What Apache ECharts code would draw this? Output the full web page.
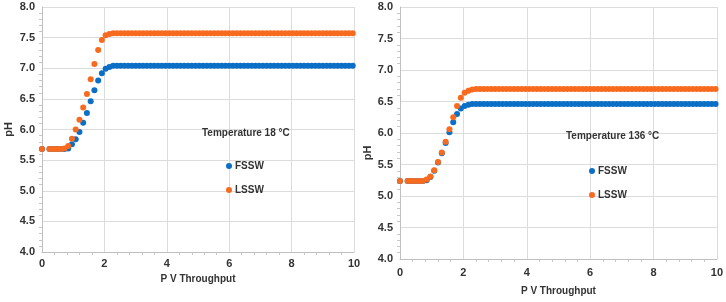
<!DOCTYPE html>
<html>
<head>
<meta charset="utf-8">
<script src="https://cdn.jsdelivr.net/npm/echarts@6/dist/echarts.min.js"></script>
<style>
  html, body { margin: 0; padding: 0; background: #fff; }
  #chart { width: 726px; height: 302px; }
</style>
</head>
<body>
<div id="chart"></div>
<script>
// PV throughput (shared by all four series)
const pvThroughput = [
  0, 0.24, 0.36, 0.48, 0.6, 0.72, 0.84, 0.96, 1.08, 1.2,
  1.32, 1.44, 1.56, 1.68, 1.8, 1.92, 2.04, 2.16, 2.28,
  2.4, 2.52, 2.64, 2.76, 2.88, 3, 3.12, 3.24,
  3.36, 3.48, 3.6, 3.72, 3.84, 3.96, 4.08, 4.2,
  4.32, 4.44, 4.56, 4.68, 4.8, 4.92, 5.04, 5.16,
  5.28, 5.4, 5.52, 5.64, 5.76, 5.88, 6, 6.12,
  6.24, 6.36, 6.48, 6.6, 6.72, 6.84, 6.96, 7.08,
  7.2, 7.32, 7.44, 7.56, 7.68, 7.8, 7.92, 8.04,
  8.16, 8.28, 8.4, 8.52, 8.64, 8.76, 8.88, 9,
  9.12, 9.24, 9.36, 9.48, 9.6, 9.72, 9.84, 9.96
];

// 18 °C
const fssw18 = [
  5.68, 5.68, 5.68, 5.68, 5.68, 5.68, 5.69, 5.76, 5.84, 5.96,
  6.11, 6.27, 6.46, 6.64, 6.80, 6.92, 6.99, 7.02, 7.04,
  7.04, 7.04, 7.04, 7.04, 7.04, 7.04, 7.04, 7.04,
  7.04, 7.04, 7.04, 7.04, 7.04, 7.04, 7.04, 7.04,
  7.04, 7.04, 7.04, 7.04, 7.04, 7.04, 7.04, 7.04,
  7.04, 7.04, 7.04, 7.04, 7.04, 7.04, 7.04, 7.04,
  7.04, 7.04, 7.04, 7.04, 7.04, 7.04, 7.04, 7.04,
  7.04, 7.04, 7.04, 7.04, 7.04, 7.04, 7.04, 7.04,
  7.04, 7.04, 7.04, 7.04, 7.04, 7.04, 7.04, 7.04,
  7.04, 7.04, 7.04, 7.04, 7.04, 7.04, 7.04, 7.04
];
const lssw18 = [
  5.68, 5.68, 5.68, 5.68, 5.68, 5.69, 5.73, 5.85, 6.00, 6.16,
  6.36, 6.58, 6.82, 7.07, 7.30, 7.46, 7.54, 7.56, 7.57,
  7.57, 7.57, 7.57, 7.57, 7.57, 7.57, 7.57, 7.57,
  7.57, 7.57, 7.57, 7.57, 7.57, 7.57, 7.57, 7.57,
  7.57, 7.57, 7.57, 7.57, 7.57, 7.57, 7.57, 7.57,
  7.57, 7.57, 7.57, 7.57, 7.57, 7.57, 7.57, 7.57,
  7.57, 7.57, 7.57, 7.57, 7.57, 7.57, 7.57, 7.57,
  7.57, 7.57, 7.57, 7.57, 7.57, 7.57, 7.57, 7.57,
  7.57, 7.57, 7.57, 7.57, 7.57, 7.57, 7.57, 7.57,
  7.57, 7.57, 7.57, 7.57, 7.57, 7.57, 7.57, 7.57
];

// 136 °C
const fssw136 = [
  5.24, 5.24, 5.24, 5.24, 5.24, 5.24, 5.25, 5.30, 5.40, 5.53,
  5.68, 5.84, 6.01, 6.17, 6.30, 6.39, 6.43, 6.45, 6.46,
  6.46, 6.46, 6.46, 6.46, 6.46, 6.46, 6.46, 6.46,
  6.46, 6.46, 6.46, 6.46, 6.46, 6.46, 6.46, 6.46,
  6.46, 6.46, 6.46, 6.46, 6.46, 6.46, 6.46, 6.46,
  6.46, 6.46, 6.46, 6.46, 6.46, 6.46, 6.46, 6.46,
  6.46, 6.46, 6.46, 6.46, 6.46, 6.46, 6.46, 6.46,
  6.46, 6.46, 6.46, 6.46, 6.46, 6.46, 6.46, 6.46,
  6.46, 6.46, 6.46, 6.46, 6.46, 6.46, 6.46, 6.46,
  6.46, 6.46, 6.46, 6.46, 6.46, 6.46, 6.46, 6.46
];
const lssw136 = [
  5.24, 5.24, 5.24, 5.24, 5.24, 5.24, 5.26, 5.31, 5.41, 5.54,
  5.69, 5.86, 6.06, 6.25, 6.43, 6.56, 6.64, 6.67, 6.69,
  6.70, 6.70, 6.70, 6.70, 6.70, 6.70, 6.70, 6.70,
  6.70, 6.70, 6.70, 6.70, 6.70, 6.70, 6.70, 6.70,
  6.70, 6.70, 6.70, 6.70, 6.70, 6.70, 6.70, 6.70,
  6.70, 6.70, 6.70, 6.70, 6.70, 6.70, 6.70, 6.70,
  6.70, 6.70, 6.70, 6.70, 6.70, 6.70, 6.70, 6.70,
  6.70, 6.70, 6.70, 6.70, 6.70, 6.70, 6.70, 6.70,
  6.70, 6.70, 6.70, 6.70, 6.70, 6.70, 6.70, 6.70,
  6.70, 6.70, 6.70, 6.70, 6.70, 6.70, 6.70, 6.70
];

const panelTitles = ['Temperature 18 °C', 'Temperature 136 °C'];
const seriesNames = ['FSSW', 'LSSW'];

const FONT = '"Liberation Sans", Arial, sans-serif';
const TEXT = '#333333';
const BLUE = '#0b6fc6';
const ORANGE = '#f86b1f';

const pairs = (ys) => pvThroughput.map((x, i) => [x, ys[i]]);

const chart = echarts.init(document.getElementById('chart'));

function xAxisFor(gridIndex, nameGap, labelMargin) {
  return {
    type: 'value',
    gridIndex,
    min: 0,
    max: 10,
    interval: 2,
    name: 'P V Throughput',
    nameLocation: 'middle',
    nameGap,
    nameTextStyle: { fontFamily: FONT, fontWeight: 'bold', fontSize: 10, color: TEXT },
    axisLine: { show: true, lineStyle: { color: '#bfbfbf' } },
    axisTick: { show: false },
    minorTick: { show: true, splitNumber: 5, length: 3, lineStyle: { color: '#c8c8c8' } },
    axisLabel: { fontFamily: FONT, fontWeight: 'bold', fontSize: 11, color: TEXT, margin: labelMargin },
    splitLine: { show: true, lineStyle: { color: '#dcdcdc' } }
  };
}

function yAxisFor(gridIndex, nameGap, namePadding) {
  return {
    type: 'value',
    gridIndex,
    min: 4,
    max: 8,
    interval: 0.5,
    name: 'pH',
    nameLocation: 'middle',
    nameGap,
    nameTextStyle: { fontFamily: FONT, fontWeight: 'bold', fontSize: 11, color: TEXT, padding: namePadding },
    axisLine: { show: true, lineStyle: { color: '#bfbfbf' } },
    axisTick: { show: false },
    minorTick: { show: true, splitNumber: 5, length: 3, lineStyle: { color: '#c8c8c8' } },
    axisLabel: {
      fontFamily: FONT, fontWeight: 'bold', fontSize: 11, color: TEXT, margin: 7,
      formatter: (v) => v.toFixed(1)
    },
    splitLine: { show: true, lineStyle: { color: '#dcdcdc' } }
  };
}

function scatter(name, data, idx, color) {
  return {
    name,
    type: 'scatter',
    xAxisIndex: idx,
    yAxisIndex: idx,
    data,
    symbol: 'circle',
    symbolSize: 6,
    itemStyle: { color, opacity: 1 },
    silent: true
  };
}

const legendStyle = {
  orient: 'vertical',
  icon: 'circle',
  itemWidth: 6,
  itemHeight: 6,
  itemGap: 14,
  textStyle: { fontFamily: FONT, fontWeight: 'bold', fontSize: 10, color: TEXT, padding: [0, 0, 0, -2] },
  data: seriesNames
};

const titleStyle = { fontFamily: FONT, fontWeight: 'bold', fontSize: 10, color: TEXT };

const option = {
  animation: false,
  title: [
    { text: panelTitles[0], left: 202, top: 128, padding: 0, textStyle: titleStyle },
    { text: panelTitles[1], left: 566, top: 131, padding: 0, textStyle: titleStyle }
  ],
  legend: [
    Object.assign({ left: 226, top: 161, padding: 0 }, legendStyle),
    Object.assign({ left: 589, top: 166, padding: 0 }, legendStyle)
  ],
  grid: [
    { left: 42, right: 372, top: 7, bottom: 50 },
    { left: 400, right: 9, top: 7, bottom: 43 }
  ],
  xAxis: [xAxisFor(0, 19, 6), xAxisFor(1, 27, 8)],
  yAxis: [yAxisFor(0, 28, [0, 0, 0, 0]), yAxisFor(1, 26, [0, 40, 0, 0])],
  series: [
    scatter(seriesNames[0], pairs(fssw18), 0, BLUE),
    scatter(seriesNames[1], pairs(lssw18), 0, ORANGE),
    scatter(seriesNames[0], pairs(fssw136), 1, BLUE),
    scatter(seriesNames[1], pairs(lssw136), 1, ORANGE)
  ]
};

chart.setOption(option);
</script>
</body>
</html>
